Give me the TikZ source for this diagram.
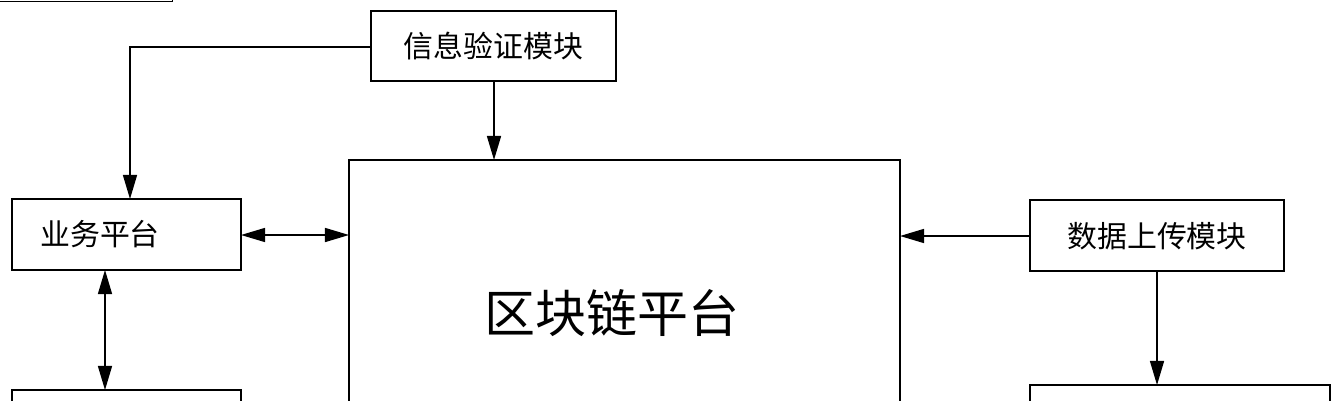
\documentclass[tikz,border=0pt]{standalone}
\usepackage{fontspec}
\newfontfamily\cjk{Noto Sans CJK SC}
\usetikzlibrary{arrows.meta}
\begin{document}
\begin{tikzpicture}[x=0.01cm,y=-0.01cm,
  box/.style={draw,line width=0.4pt,font=\cjk\fontsize{8.5}{10}\selectfont},
  arr/.style={-{Triangle[length=0.24cm,width=0.14cm]},line width=0.4pt},
  darr/.style={{Triangle[length=0.24cm,width=0.14cm]}-{Triangle[length=0.24cm,width=0.14cm]},line width=0.4pt}]
\useasboundingbox (0,0) rectangle (1334,400);
\begin{scope}
\clip (0,0) rectangle (1334,400);
\node[box,minimum width=245\pgflinewidth,text width=0,inner sep=0] at (0,0) {};
\draw (371,11) rectangle (616,81);
\node[font=\cjk\fontsize{8.5}{10}\selectfont] (xx) at (493.5,46) {信息验证模块};
\coordinate (xxL) at (371,47); \coordinate (xxB) at (494,81);
\draw (349,160) rectangle (900,460);
\node[font=\cjk\fontsize{14.5}{16}\selectfont] (qk) at (612,313) {区块链平台};
\coordinate (qkT) at (494,160); \coordinate (qkL) at (349,235); \coordinate (qkR) at (900,236);
\draw (12,199) rectangle (241,270);
\node[font=\cjk\fontsize{8.5}{10}\selectfont] (yw) at (100,234) {业务平台};
\coordinate (ywT) at (130,199); \coordinate (ywR) at (241,235); \coordinate (ywB) at (105,270);
\draw (12,390) rectangle (241,470);
\coordinate (lbT) at (105,390);
\draw (1030,200) rectangle (1284,271);
\node[font=\cjk\fontsize{8.5}{10}\selectfont] (sj) at (1157,236) {数据上传模块};
\coordinate (sjL) at (1030,236); \coordinate (sjB) at (1157,271);
\draw (1030,385) rectangle (1330,470);
\coordinate (rbT) at (1157,385);
\draw[arr] (xxL) -| (ywT);
\draw[arr] (xxB) -- (qkT);
\draw[darr] (ywR) -- (qkL);
\draw[darr] (ywB) -- (lbT);
\draw[arr] (sjL) -- (qkR);
\draw[arr] (sjB) -- (rbT);
\end{scope}
\end{tikzpicture}
\end{document}
